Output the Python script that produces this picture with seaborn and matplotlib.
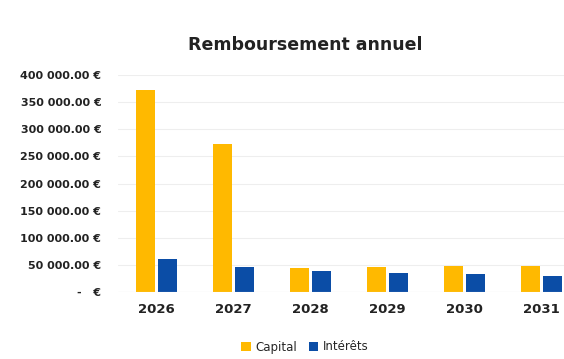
import matplotlib
matplotlib.use("Agg")
import matplotlib.pyplot as plt
import seaborn as sns
import pandas as pd

# ===== Données =====
annees = ['2026', '2027', '2028', '2029', '2030', '2031']
capital = [373000, 272000, 44000, 46500, 47300, 48000]
interets = [60300, 46600, 38700, 35000, 33000, 29500]

df = pd.DataFrame({
    'annee': annees * 2,
    'montant': capital + interets,
    'type': ['Capital'] * len(annees) + ['Intérêts'] * len(annees),
})

sns.set_theme(style='white')
plt.rcParams['font.family'] = ['DejaVu Sans']

fig = plt.figure(figsize=(5.64, 3.59), dpi=100)
ax = fig.add_axes([118 / 564, 1 - 292 / 359, (564 - 118) / 564, 217 / 359])

sns.barplot(data=df, x='annee', y='montant', hue='type',
            palette={'Capital': '#FFB900', 'Intérêts': '#0B4DA6'},
            width=0.56, gap=0.12, saturation=1, linewidth=0, ax=ax)

ax.set_xlim(-0.5, 5.29)
ax.set_ylim(0, 400000)
ax.set_yticks(range(0, 400001, 50000))


def fmt_euro(v):
    if v == 0:
        return '-   €'
    return '{:,.2f} €'.format(v).replace(',', ' ')


ax.set_yticklabels([fmt_euro(v) for v in range(0, 400001, 50000)],
                   fontsize=8, fontweight='bold', color='#222222')
ax.set_xticklabels(annees, fontsize=9.5, fontweight='bold', color='#222222')
ax.tick_params(axis='x', pad=8, length=0)
ax.tick_params(axis='y', pad=12, length=0)
ax.set_xlabel('')
ax.set_ylabel('')
ax.grid(axis='y', color='#eeeeee', linewidth=0.8)
ax.set_axisbelow(True)
for s in ax.spines.values():
    s.set_visible(False)
ax.axhline(0, color='#e6e6e6', linewidth=0.8)

ax.legend_.remove()
handles, labels = ax.get_legend_handles_labels()
fig.legend(handles, labels, loc='center', bbox_to_anchor=(305 / 564, 1 - 347 / 359),
           ncol=2, frameon=False, fontsize=8.5, handlelength=0.8, handleheight=0.8,
           columnspacing=1.0, handletextpad=0.4)

fig.text(305 / 564, 1 - 45 / 359, 'Remboursement annuel', ha='center', va='center',
         fontsize=12.5, fontweight='bold', color='#222222')

plt.savefig('out.png', dpi=100)
